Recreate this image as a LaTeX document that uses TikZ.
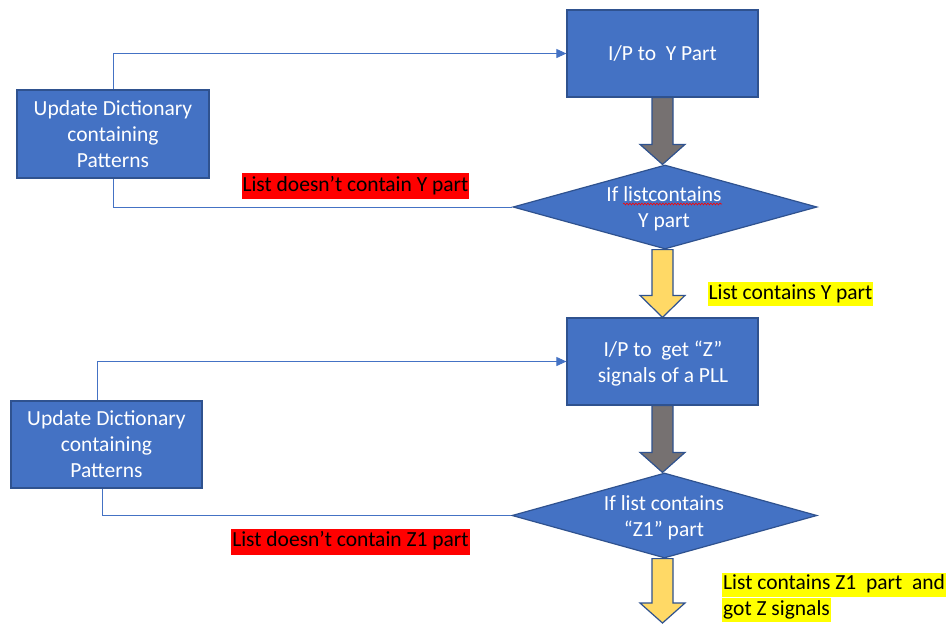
\documentclass[tikz,border=0pt]{standalone}
\usepackage{fontspec}
\setmainfont{Carlito}
\usetikzlibrary{arrows.meta,shapes.geometric,calc,decorations.pathmorphing}
\definecolor{boxblue}{HTML}{4472C4}
\definecolor{boxedge}{HTML}{2F528F}
\definecolor{arrowgray}{HTML}{767171}
\definecolor{arrowgold}{HTML}{FFD966}
\definecolor{hiyellow}{HTML}{FFFF00}
\definecolor{hired}{HTML}{FF0000}

% Thick block arrow pointing down from #2 to #3, head length #4
\newcommand\blockarrow[4]{%
  \path[fill=#1, draw=boxedge, line width=1.2pt, line join=miter]
    let \p1=(#2), \p2=(#3) in
    (\x1-10.5pt,\y1) -- (\x1-10.5pt,\y2+#4) -- (\x1-22.5pt,\y2+#4) --
    (\x1,\y2) -- (\x1+22.5pt,\y2+#4) -- (\x1+10.5pt,\y2+#4) --
    (\x1+10.5pt,\y1) -- cycle;}

\begin{document}
\begin{tikzpicture}[x=1pt,y=-1pt,
  every node/.style={font=\fontsize{21.5}{26}\selectfont},
  procbox/.style={rectangle, fill=boxblue, draw=boxedge, line width=1.2pt,
    text=white, align=center, inner sep=0pt},
  decision/.style={diamond, fill=boxblue, draw=boxedge, line width=1.2pt,
    inner sep=0pt},
  dtext/.style={text=white, align=center, inner sep=0pt},
  conn/.style={draw=boxblue, line width=0.9pt},
  connarrow/.style={conn, -{Triangle[length=10pt,width=9pt]}},
  redlabel/.style={fill=hired, text=black, inner xsep=1pt, inner ysep=2pt,
    text height=16pt, text depth=6pt},
  yellabel/.style={fill=hiyellow, text=black, inner xsep=1pt, inner ysep=1pt,
    text height=16pt, text depth=6pt},
]
\fill[white] (0,0) rectangle (951,625);
\useasboundingbox (0,0) rectangle (951,625);

% main column
\node[procbox, minimum width=191pt, minimum height=87pt] (r1) at (662.5,53.5)
  {I/P to\ \ Y Part};
\node[decision, minimum width=304pt, minimum height=84pt] (d1) at (665,207) {};
\node[dtext] (d1t) at (664,209) {If listcontains\\Y part};
\node[procbox, minimum width=191pt, minimum height=87pt] (r2) at (662.5,361.5) {};
\node[dtext] (r2t) at (663,364) {I/P to\ \ get “Z”\\signals of a PLL};
\node[decision, minimum width=305pt, minimum height=85pt] (d2) at (664.5,515.5) {};
\node[dtext] (d2t) at (664,517.5) {If list contains\\“Z1” part};
\coordinate (out) at (662.5,623);

% spell-check underline
\draw[red, line width=0.6pt, decorate,
  decoration={snake, amplitude=0.9pt, segment length=3pt}]
  ($(d1t.center)+(-41,-5)$) -- ($(d1t.center)+(58,-5)$);

% dictionary update boxes
\node[procbox, minimum width=192pt, minimum height=88pt] (u1) at (113,134)
  {Update Dictionary\\containing\\Patterns};
\node[procbox, minimum width=191pt, minimum height=87pt] (u2) at (106.5,444.5)
  {Update Dictionary\\containing\\Patterns};

% block arrows
\blockarrow{arrowgray}{r1.south}{d1.north}{20pt}
\blockarrow{arrowgold}{r1.south |- d1.south}{r2.north}{22pt}
\blockarrow{arrowgray}{r2.south}{d2.north}{20pt}
\blockarrow{arrowgold}{r2.south |- d2.south}{out}{20pt}

% feedback connectors
\draw[conn] (d1.west) -| (u1.south);
\draw[connarrow] (u1.north) |- (r1.west);
\draw[conn] (d2.west) -| ([xshift=-4.5pt]u2.south);
\draw[connarrow] ([xshift=-9.5pt]u2.north) |- (r2.west);

% labels
\node[redlabel] (n1) at (355.5,186) {List doesn’t contain Y part};
\node[redlabel] (n2) at (350.5,541.5) {List doesn’t contain Z1 part};
\node[yellabel] (y1) at (790.5,294) {List contains Y part};
\node[yellabel, anchor=west] (y2a) at (722,584.5) {List contains Z1\ \ part\ \ and};
\node[yellabel, anchor=west] (y2b) at (722,610) {got Z signals};
\end{tikzpicture}
\end{document}
